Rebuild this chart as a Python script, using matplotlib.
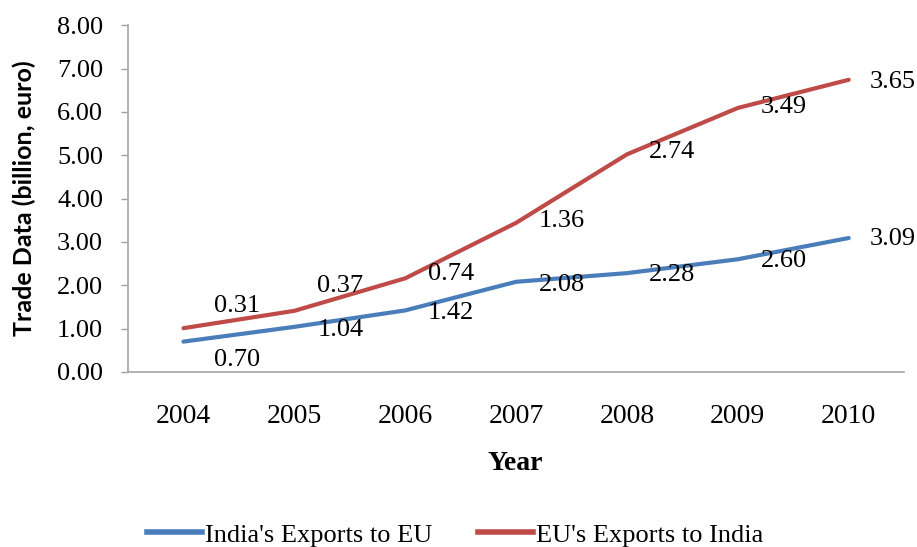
import matplotlib
matplotlib.use('Agg')
import matplotlib.pyplot as plt
from matplotlib.lines import Line2D
import numpy as np

# --- data (stacked line chart, values are the per-series amounts) ---
years = ['2004', '2005', '2006', '2007', '2008', '2009', '2010']
india_exports = [0.70, 1.04, 1.42, 2.08, 2.28, 2.60, 3.09]
eu_exports = [0.31, 0.37, 0.74, 1.36, 2.74, 3.49, 3.65]
y_ticks = [0, 1, 2, 3, 4, 5, 6, 7, 8]

# label offsets in pixels (dx, dy up), as placed in the original
india_offsets = [(54, -18), (46, -3), (46, -3), (46, -3), (45, -2), (46, -2), (44, -1)]
eu_offsets = [(54, 22), (46, 25), (46, 4), (46, 2), (45, 2), (46, 1), (44, -2)]

blue = '#4A7EBB'
red = '#BE4B48'
serif = 'Liberation Serif'

fig = plt.figure(figsize=(9.17, 5.47), dpi=100)
ax = fig.add_axes([0.1396, 0.320, 0.8464, 0.634])

x = np.arange(len(years))
india = np.array(india_exports)
eu_total = india + np.array(eu_exports)

ax.plot(x, india, color=blue, lw=3, solid_capstyle='round', zorder=3)
ax.plot(x, eu_total, color=red, lw=3, solid_capstyle='round', zorder=3)

for i in range(len(x)):
    ax.annotate(f'{india_exports[i]:.2f}', (x[i], india[i]), xytext=india_offsets[i],
                textcoords='offset pixels', ha='center', va='center',
                fontsize=19, family=serif, zorder=4)
    ax.annotate(f'{eu_exports[i]:.2f}', (x[i], eu_total[i]), xytext=eu_offsets[i],
                textcoords='offset pixels', ha='center', va='center',
                fontsize=19, family=serif, zorder=4)

ax.set_xlim(-0.5, len(years) - 0.5)
ax.set_ylim(0, 8)
ax.set_xticks(x)
ax.set_xticklabels(years, fontsize=20, family=serif)
ax.set_yticks(y_ticks)
ax.set_yticklabels([f'{v:.2f}' for v in y_ticks], fontsize=19, family=serif)
ax.tick_params(axis='x', length=0, pad=23)
ax.tick_params(axis='y', length=5, width=1, color='#A0A0A0', pad=13)

for side in ['top', 'right']:
    ax.spines[side].set_visible(False)
for side in ['left', 'bottom']:
    ax.spines[side].set_color('#A6A6A6')
    ax.spines[side].set_linewidth(1.2)

fig.text(0.026, 0.638, 'Trade Data (billion, euro)', rotation=90, ha='center', va='center',
         fontsize=18, fontweight='bold', family='Lato')
fig.text(0.562, 0.153, 'Year', ha='center', va='center', fontsize=20,
         fontweight='bold', family=serif)

handles = [Line2D([], [], color=blue, lw=4), Line2D([], [], color=red, lw=4)]
fig.legend(handles, ["India's Exports to EU", "EU's Exports to India"],
           loc='center', bbox_to_anchor=(0.496, 0.022), ncol=2, frameon=False,
           prop={'family': serif, 'size': 19}, handlelength=2.08, handletextpad=0.11,
           columnspacing=1.74, borderpad=0)

fig.savefig('out.png', dpi=100)
